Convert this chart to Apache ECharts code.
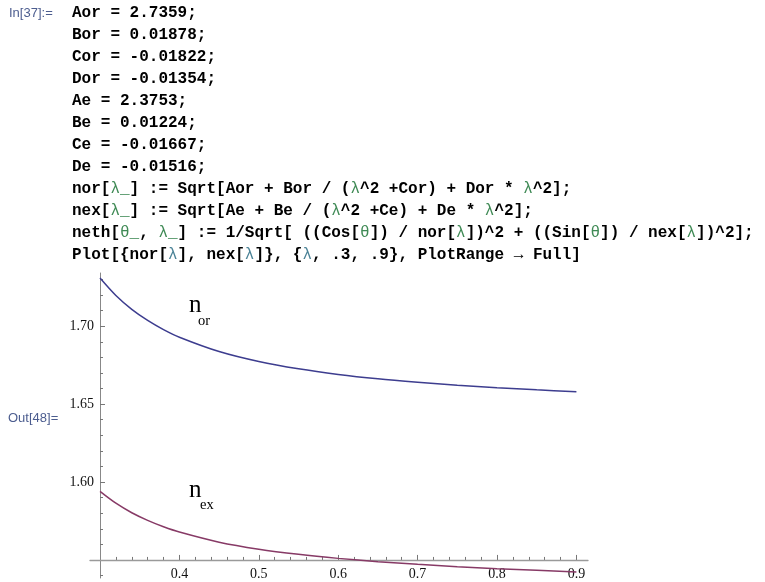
<!DOCTYPE html>
<html>
<head>
<meta charset="utf-8">
<title>nor / nex</title>
<script src="https://cdn.jsdelivr.net/npm/echarts@6/dist/echarts.min.js"></script>
<style>html,body{margin:0;background:#fff;}</style>
</head>
<body>
<div id="main" style="width:765px;height:582px;"></div>
<script>
// values
var lambdas = [0.30, 0.32, 0.34, 0.36, 0.38, 0.40, 0.45, 0.50, 0.55, 0.60, 0.65, 0.70, 0.75, 0.80, 0.85, 0.90];
var nOr = [1.7310, 1.7198, 1.7109, 1.7038, 1.6979, 1.6930, 1.6838, 1.6774, 1.6727, 1.6691, 1.6663, 1.6641, 1.6622, 1.6606, 1.6592, 1.6579];
var nEx = [1.5940, 1.5864, 1.5803, 1.5754, 1.5713, 1.5679, 1.5614, 1.5569, 1.5536, 1.5510, 1.5489, 1.5472, 1.5457, 1.5444, 1.5433, 1.5422];

var xMajor = [0.4, 0.5, 0.6, 0.7, 0.8, 0.9];
var xMinor = [0.32, 0.34, 0.36, 0.38, 0.42, 0.44, 0.46, 0.48, 0.52, 0.54, 0.56, 0.58,
              0.62, 0.64, 0.66, 0.68, 0.72, 0.74, 0.76, 0.78, 0.82, 0.84, 0.86, 0.88];
var yMajor = [1.60, 1.65, 1.70];
var yMinor = [1.54, 1.56, 1.57, 1.58, 1.59, 1.61, 1.62, 1.63, 1.64, 1.66, 1.67, 1.68, 1.69, 1.71, 1.72, 1.73];

var codeLines = [
    'Aor = 2.7359;',
    'Bor = 0.01878;',
    'Cor = -0.01822;',
    'Dor = -0.01354;',
    'Ae = 2.3753;',
    'Be = 0.01224;',
    'Ce = -0.01667;',
    'De = -0.01516;',
    'nor[{g|λ_}] := Sqrt[Aor + Bor / ({g|λ}^2 +Cor) + Dor * {g|λ}^2];',
    'nex[{g|λ_}] := Sqrt[Ae + Be / ({g|λ}^2 +Ce) + De * {g|λ}^2];',
    'neth[{g|θ_}, {g|λ_}] := 1/Sqrt[ ((Cos[{g|θ}]) / nor[{g|λ}])^2 + ((Sin[{g|θ}]) / nex[{g|λ}])^2];',
    'Plot[{nor[{t|λ}], nex[{t|λ}]}, {{t|λ}, .3, .9}, PlotRange → Full]'
];

// axes cross at (X0, Y0), Mathematica style
var X0 = 0.3, Y0 = 1.55;
var XMIN = 0.2874, XMAX = 0.9146, YMIN = 1.5384, YMAX = 1.7342;
var GRID = { left: 90, right: 177, top: 273, bottom: 4 };

var myChart = echarts.init(document.getElementById('main'));

function shift(arr, d) { return arr.map(function (v) { return v - d; }); }
function pairs(ys) { return lambdas.map(function (l, i) { return [l - X0, ys[i] - Y0]; }); }

// lift the x axis from the grid bottom up to y = Y0
var gridH = myChart.getHeight() - GRID.top - GRID.bottom;
var xOffset = -(Y0 - YMIN) / (YMAX - YMIN) * gridH;

var mono = "'Liberation Mono', 'DejaVu Sans Mono', monospace";
var serif = "'Liberation Serif', 'DejaVu Serif', serif";
var sans = "'Liberation Sans', 'DejaVu Sans', sans-serif";

var graphics = codeLines.map(function (line, i) {
    return {
        type: 'text', x: 72, y: 13 + 22 * i,
        style: {
            text: line, fontFamily: mono, fontSize: 16, fontWeight: 'bold', fill: '#000',
            verticalAlign: 'middle',
            rich: {
                g: { fill: '#3f8a55', fontFamily: mono, fontSize: 16, fontWeight: 'normal' },
                t: { fill: '#4a8296', fontFamily: mono, fontSize: 16, fontWeight: 'normal' }
            }
        }
    };
});
graphics.push(
    { type: 'text', x: 9, y: 13, style: { text: 'In[37]:=', fontFamily: sans, fontSize: 13, fill: '#4c5d8f', verticalAlign: 'middle' } },
    { type: 'text', x: 8, y: 418, style: { text: 'Out[48]=', fontFamily: sans, fontSize: 13, fill: '#4c5d8f', verticalAlign: 'middle' } },
    { type: 'text', x: 189, y: 305, style: { text: 'n', fontFamily: serif, fontSize: 25, fill: '#000', verticalAlign: 'middle' } },
    { type: 'text', x: 198, y: 321, style: { text: 'or', fontFamily: serif, fontSize: 14.5, fill: '#000', verticalAlign: 'middle' } },
    { type: 'text', x: 189, y: 490, style: { text: 'n', fontFamily: serif, fontSize: 25, fill: '#000', verticalAlign: 'middle' } },
    { type: 'text', x: 200, y: 505, style: { text: 'ex', fontFamily: serif, fontSize: 14.5, fill: '#000', verticalAlign: 'middle' } }
);

var labelStyle = { fontFamily: serif, fontSize: 14, color: '#111' };

option = {
    animation: false,
    backgroundColor: '#fff',
    grid: { left: GRID.left, right: GRID.right, top: GRID.top, bottom: GRID.bottom, outerBoundsMode: 'none' },
    xAxis: [{
        type: 'value', position: 'bottom', offset: xOffset, min: XMIN - X0, max: XMAX - X0,
        axisLine: { onZero: false, lineStyle: { color: '#9a9a9a', width: 1.3 } },
        axisTick: { inside: true, length: 5, customValues: shift(xMajor, X0), lineStyle: { color: '#777' } },
        axisLabel: Object.assign({ customValues: shift(xMajor, X0), margin: 7,
            formatter: function (v) { return (v + X0).toFixed(1); } }, labelStyle),
        splitLine: { show: false }
    }, {
        type: 'value', position: 'bottom', offset: xOffset, min: XMIN - X0, max: XMAX - X0,
        axisLine: { show: false, onZero: false },
        axisTick: { inside: true, length: 3, customValues: shift(xMinor, X0), lineStyle: { color: '#777' } },
        axisLabel: { show: false },
        splitLine: { show: false }
    }],
    yAxis: [{
        type: 'value', position: 'left', min: YMIN - Y0, max: YMAX - Y0,
        axisLine: { onZero: true, onZeroAxisIndex: 0, lineStyle: { color: '#888', width: 1 } },
        axisTick: { inside: true, length: 5, customValues: shift(yMajor, Y0), lineStyle: { color: '#777' } },
        axisLabel: Object.assign({ customValues: shift(yMajor, Y0), margin: -4,
            formatter: function (v) { return (v + Y0).toFixed(2); } }, labelStyle),
        splitLine: { show: false }
    }, {
        type: 'value', position: 'left', min: YMIN - Y0, max: YMAX - Y0,
        axisLine: { show: false, onZero: true, onZeroAxisIndex: 0 },
        axisTick: { inside: true, length: 3, customValues: shift(yMinor, Y0), lineStyle: { color: '#777' } },
        axisLabel: { show: false },
        splitLine: { show: false }
    }],
    graphic: graphics,
    series: [{
        name: 'nor', type: 'line', data: pairs(nOr), smooth: 0.3, showSymbol: false,
        lineStyle: { color: '#3d3d8f', width: 1.5 }
    }, {
        name: 'nex', type: 'line', data: pairs(nEx), smooth: 0.3, showSymbol: false,
        lineStyle: { color: '#873a66', width: 1.5 }
    }]
};
myChart.setOption(option);
</script>
</body>
</html>
